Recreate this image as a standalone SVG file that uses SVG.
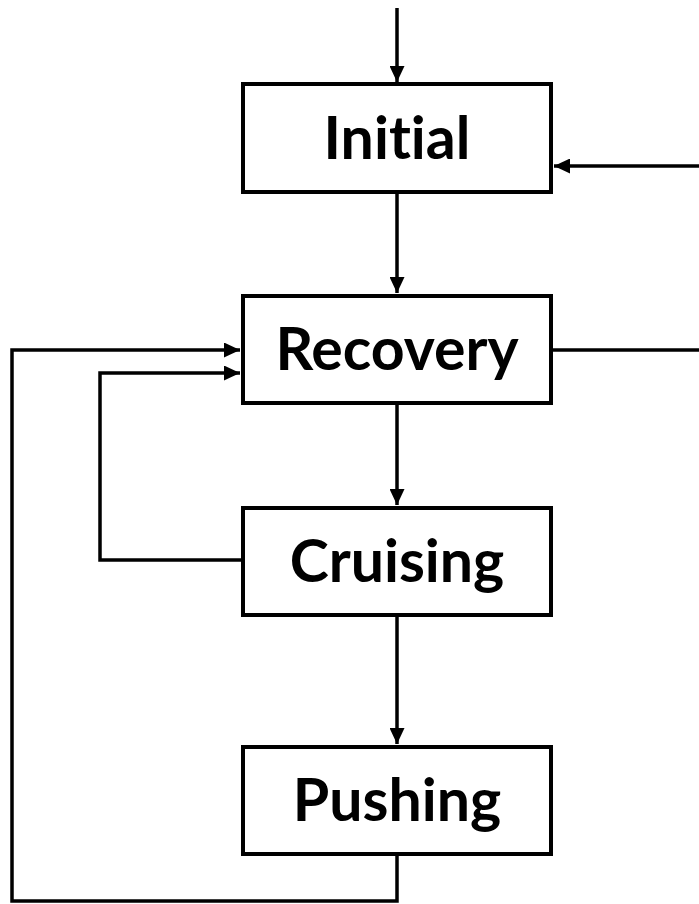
<svg xmlns="http://www.w3.org/2000/svg" width="699" height="904" viewBox="0 0 699 904">
<style>
.box{fill:#fff;stroke:#000;stroke-width:4}
.lbl{font-family:Lato,"Open Sans","Liberation Sans",sans-serif;font-weight:bold;font-size:59px;text-anchor:middle;fill:#000;font-variant-ligatures:none;font-feature-settings:"liga" 0}
.c{fill:none;stroke:#000;stroke-width:3.5}
</style>
<defs>
<marker id="ah" markerUnits="userSpaceOnUse" markerWidth="17" markerHeight="15" refX="16" refY="7.5" orient="auto">
<path d="M0,0 L16,7.5 L0,15 Z" fill="#000"/>
</marker>
</defs>
<g id="connectors">
<path class="c" d="M397,8 V82" marker-end="url(#ah)"/>
<path class="c" d="M397,194 V293" marker-end="url(#ah)"/>
<path class="c" d="M397,405 V505" marker-end="url(#ah)"/>
<path class="c" d="M397,617 V744" marker-end="url(#ah)"/>
<path class="c" d="M699,166 H554" marker-end="url(#ah)"/>
<path class="c" d="M553,350 H699"/>
<path class="c" d="M241,560 H100 V373 H240" marker-end="url(#ah)"/>
<path class="c" d="M397,856 V901 H12 V350 H240" marker-end="url(#ah)"/>
</g>
<g id="initial">
<rect class="box" x="243" y="84" width="308" height="108"/>
<text class="lbl" x="397" y="159">Initial</text>
</g>
<g id="recovery">
<rect class="box" x="243" y="296" width="308" height="107"/>
<text class="lbl" x="397" y="370">Recovery</text>
</g>
<g id="cruising">
<rect class="box" x="243" y="508" width="308" height="107"/>
<text class="lbl" x="397" y="582">Cruising</text>
</g>
<g id="pushing">
<rect class="box" x="243" y="747" width="308" height="107"/>
<text class="lbl" x="397" y="821">Pushing</text>
</g>
</svg>
